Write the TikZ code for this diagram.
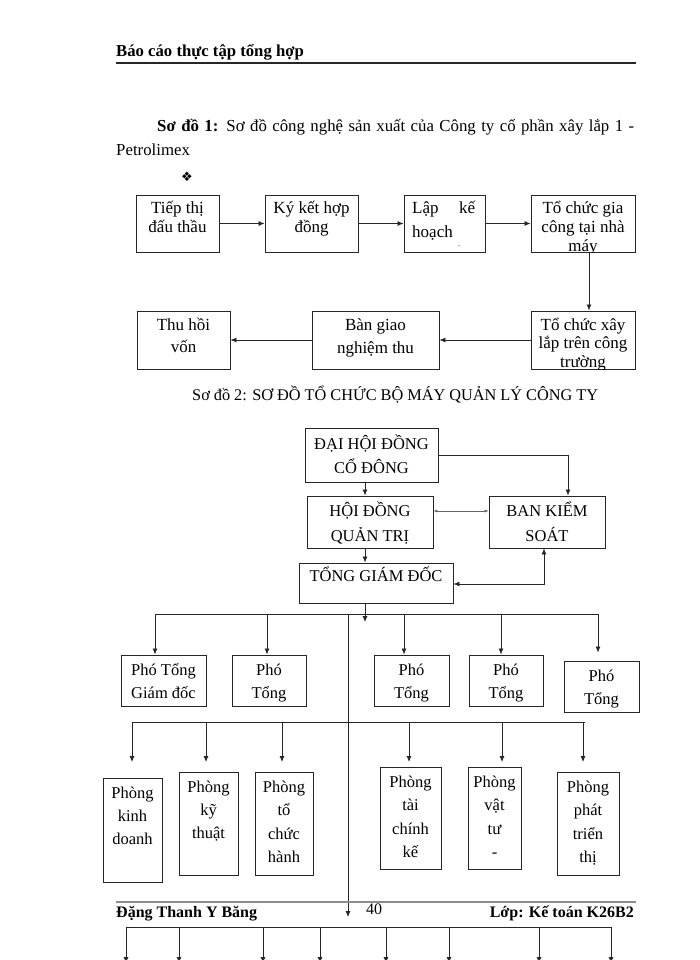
\documentclass[tikz,border=0pt]{standalone}
\usepackage{fontspec}
\setmainfont{Liberation Serif}
\newfontfamily\djv{DejaVu Sans}
\usetikzlibrary{arrows.meta}
\newcommand{\ml}[2]{\vtop{\baselineskip=#1pt\lineskiplimit=-50pt\lineskip=0pt\halign{\hfil##\hfil\cr#2\crcr}}}
\newcommand{\fsA}{\fontsize{17}{19}\selectfont}
\newcommand{\fsB}{\fontsize{16.5}{19}\selectfont}
\newcommand{\mybox}[5]{\node[box, minimum width={#4-#2}, minimum height={#5-#3}] (#1) at ({(#2+#4)/2},{(#3+#5)/2}) {};}
\tikzset{
  box/.style={draw=black!85, line width=0.9pt, inner sep=0pt, fill=none},
  txt/.style={inner sep=0pt, anchor=base, font=\fsA},
  otxt/.style={inner sep=0pt, anchor=base, font=\fsB},
  arr/.style={draw=black!85, line width=0.8pt, -{Latex[length=6pt,width=5pt]}},
  dblarr/.style={draw=black!85, line width=0.8pt, {Latex[length=6pt,width=5pt]}-{Latex[length=6pt,width=5pt]}},
  thinarr/.style={draw=black!60, line width=0.5pt, {Latex[length=4pt,width=3pt]}-{Latex[length=4pt,width=3pt]}},
  ln/.style={draw=black!85, line width=0.8pt},
}
\begin{document}
\begin{tikzpicture}[x=1pt,y=-1pt]
\clip (0,0) rectangle (700,960);
\fill[white] (0,0) rectangle (700,960);

% header
\node[anchor=base west, inner sep=0pt, font=\fontsize{16.7}{19}\selectfont\bfseries] (hdr) at (116,57) {Báo cáo thực tập tổng hợp};
\coordinate (hl) at (116,63);
\coordinate (hr) at (636,63);
\draw[line width=1.6pt, black!85] (hl) -- (hr);

% caption 1
\node[anchor=base west, inner sep=0pt, font=\fontsize{16.8}{19}\selectfont] (cap1) at (157,132) {\makebox[477pt][s]{\textbf{Sơ đồ 1:} Sơ đồ công nghệ sản xuất của Công ty cổ phần xây lắp 1 -}};
\node[anchor=base west, inner sep=0pt, font=\fontsize{16.8}{19}\selectfont] (cap1b) at (116,156) {Petrolimex};
\node[inner sep=0pt, font=\djv\fontsize{13}{14}\selectfont] (orn) at (187,177) {❖};

% diagram 1, row 1
\mybox{b1}{136}{195}{219}{252}
\mybox{b2}{265}{195}{358}{252}
\mybox{b3}{404}{195}{485}{252}
\mybox{b4}{531}{195}{635}{252}
\node[txt] (t1) at (177.5,213) {\ml{19}{Tiếp thị\cr đấu thầu}};
\node[txt] (t2) at (311.5,213) {\ml{19}{Ký kết hợp\cr đồng}};
\node[txt, anchor=base west] (t3) at (412,213) {\vtop{\baselineskip=24pt\hbox to 63pt{Lập\hfill kế}\hbox{hoạch}}};
\node[inner sep=0pt, font=\fontsize{8}{9}\selectfont] (dot) at (459,246) {.};
\begin{scope}
\clip (b4.south west) rectangle (b4.north east);
\node[txt] (t4) at (583,213) {\ml{19}{Tổ chức gia\cr công tại nhà\cr máy}};
\end{scope}

% row 2
\mybox{c1}{137}{311}{230}{369}
\mybox{c2}{312}{311}{439}{369}
\mybox{c3}{531}{311}{635}{369}
\node[txt] (u1) at (183.5,330) {\ml{22}{Thu hồi\cr vốn}};
\node[txt] (u2) at (375.5,330) {\ml{23}{Bàn giao\cr nghiệm thu}};
\begin{scope}
\clip (c3.south west) rectangle (c3.north east);
\node[txt] (u3) at (583,330) {\ml{18.5}{Tổ chức xây\cr lắp trên công\cr trường}};
\end{scope}

\draw[arr] (b1.east) -- (b2.west);
\draw[arr] (b2.east) -- (b3.west);
\draw[arr] (b3.east) -- (b4.west);
\draw[arr] ([xshift=6pt]b4.south) -- ([xshift=6pt]c3.north);
\draw[arr] (c3.west) -- (c2.east);
\draw[arr] (c2.west) -- (c1.east);

% caption 2
\node[anchor=base west, inner sep=0pt, font=\fontsize{16.3}{18}\selectfont] (cap2) at (192,400) {\makebox[406pt][s]{Sơ đồ 2: SƠ ĐỒ TỔ CHỨC BỘ MÁY QUẢN LÝ CÔNG TY}};

% org chart top
\mybox{dh}{305}{428}{438}{482}
\mybox{hd}{307}{496}{433}{548}
\mybox{bk}{489}{496}{605}{548}
\mybox{tg}{299}{563}{453}{603}
\node[otxt] (dht) at (371.5,449) {\ml{24}{ĐẠI HỘI ĐỒNG\cr CỔ ĐÔNG}};
\node[otxt] (hdt) at (370,516) {\ml{25}{HỘI ĐỒNG\cr QUẢN TRỊ}};
\node[otxt] (bkt) at (547,516) {\ml{25}{BAN KIỂM\cr SOÁT}};
\node[otxt] (tgt) at (376,581) {TỔNG GIÁM ĐỐC};

\draw[arr] ([xshift=-6.5pt]dh.south) -- ([xshift=-5pt]hd.north);
\draw[arr] (dh.east) -| ([xshift=21pt]bk.north);
\draw[thinarr] ([yshift=11pt]hd.east) -- ([yshift=11pt]bk.west);
\draw[arr] ([xshift=-5pt]hd.south) -- ([xshift=-11pt]tg.north);
\draw[dblarr] ([xshift=-3pt]bk.south) |- ([yshift=-1pt]tg.east);
\coordinate (tgend) at (365,622);
\draw[arr] ([xshift=-11pt]tg.south) -- (tgend);

% Pho Tong boxes
\mybox{p1}{121}{655}{206}{706}
\mybox{p2}{232}{655}{306}{706}
\mybox{p3}{374}{655}{449}{706}
\mybox{p4}{469}{655}{543}{706}
\mybox{p5}{564}{661}{639}{712}
\node[otxt] (p1t) at (163.5,675) {\ml{23}{Phó Tổng\cr Giám đốc}};
\node[otxt] (p2t) at (269,675) {\ml{23}{Phó\cr Tổng}};
\node[otxt] (p3t) at (411.5,675) {\ml{23}{Phó\cr Tổng}};
\node[otxt] (p4t) at (506,675) {\ml{23}{Phó\cr Tổng}};
\node[otxt] (p5t) at (601.5,681) {\ml{23}{Phó\cr Tổng}};

\coordinate (busA) at (0,614);
\draw[ln] ([xshift=-8.5pt]p1.north |- busA) -- ([xshift=-3.5pt]p5.north |- busA);
\draw[arr] ([xshift=-8.5pt]p1.north |- busA) -- ([xshift=-8.5pt]p1.north);
\draw[arr] ([xshift=-2pt]p2.north |- busA) -- ([xshift=-2pt]p2.north);
\draw[arr] ([xshift=-7.5pt]p3.north |- busA) -- ([xshift=-7.5pt]p3.north);
\draw[arr] ([xshift=-5pt]p4.north |- busA) -- ([xshift=-5pt]p4.north);
\draw[arr] ([xshift=-3.5pt]p5.north |- busA) -- ([xshift=-3.5pt,yshift=8pt]p5.north);

% main vertical line
\coordinate (vtop) at (348,614);
\coordinate (vbot) at (348,917);
\draw[arr] (vtop) -- (vbot);

% Phong boxes
\mybox{r1}{103}{778}{162}{882}
\mybox{r2}{179}{772}{238}{875}
\mybox{r3}{255}{772}{313}{875}
\mybox{r4}{380}{767}{441}{869}
\mybox{r5}{468}{767}{521}{869}
\mybox{r6}{557}{772}{619}{875}
\node[otxt] (r1t) at (132.5,798) {\ml{23}{Phòng\cr kinh\cr doanh}};
\node[otxt] (r2t) at (208.5,792) {\ml{23}{Phòng\cr kỹ\cr thuật}};
\node[otxt] (r3t) at (284,792) {\ml{23.5}{Phòng\cr tổ\cr chức\cr hành}};
\node[otxt] (r4t) at (410.5,787) {\ml{23.5}{Phòng\cr tài\cr chính\cr kế}};
\node[otxt] (r5t) at (494.5,787) {\ml{23.5}{Phòng\cr vật\cr tư\cr -}};
\node[otxt] (r6t) at (588,792) {\ml{23.5}{Phòng\cr phát\cr triển\cr thị}};

\coordinate (busB) at (0,722);
\coordinate (tipB) at (0,762);
\draw[ln] ([xshift=-0.5pt]r1.north |- busB) -- ([xshift=-3pt]r6.north |- busB);
\draw[arr] ([xshift=-0.5pt]r1.north |- busB) -- ([xshift=-0.5pt]r1.north |- tipB);
\draw[arr] ([xshift=-2.5pt]r2.north |- busB) -- ([xshift=-2.5pt]r2.north |- tipB);
\draw[arr] ([xshift=-2pt]r3.north |- busB) -- ([xshift=-2pt]r3.north |- tipB);
\draw[arr] ([xshift=-1.5pt]r4.north |- busB) -- ([xshift=-1.5pt]r4.north |- tipB);
\draw[arr] ([xshift=7.5pt]r5.north |- busB) -- ([xshift=7.5pt]r5.north |- tipB);
\draw[arr] ([xshift=-5pt]r6.north |- busB) -- ([xshift=-5pt]r6.north |- tipB);

% footer
\coordinate (fl) at (116,902);
\coordinate (fr) at (636,902);
\draw[line width=2.6pt, black!45] (fl) -- (fr);
\node[anchor=base west, inner sep=0pt, font=\fontsize{16}{18}\selectfont\bfseries] (fname) at (116,917) {Đặng Thanh Y Băng};
\node[anchor=base west, inner sep=0pt, font=\fontsize{16}{18}\selectfont] (fpage) at (366,914) {40};
\node[anchor=base east, inner sep=0pt, font=\fontsize{16}{18}\selectfont\bfseries] (fclass) at (634,917) {Lớp: Kế toán K26B2};

% bottom bus
\coordinate (bb1) at (126,927);
\coordinate (bb2) at (179,927);
\coordinate (bb3) at (263,927);
\coordinate (bb4) at (320,927);
\coordinate (bb5) at (386,927);
\coordinate (bb6) at (449,927);
\coordinate (bb7) at (539,927);
\coordinate (bb8) at (611,927);
\coordinate (bend) at (0,963);
\draw[ln] (bb1) -- (bb8);
\foreach \k in {1,...,8}{\draw[arr] (bb\k) -- (bb\k |- bend);}
\end{tikzpicture}
\end{document}
